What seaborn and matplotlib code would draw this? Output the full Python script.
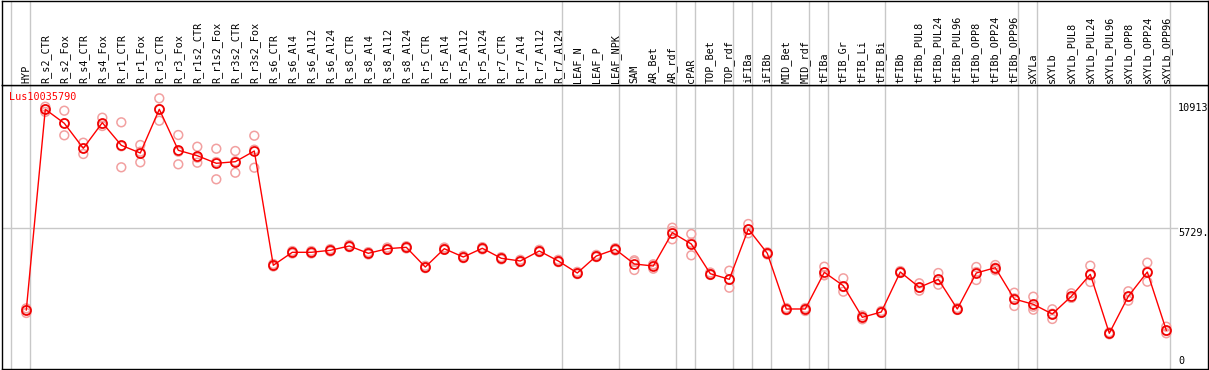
import matplotlib
matplotlib.use("Agg")
import matplotlib.pyplot as plt
import seaborn as sns
import numpy as np
import pandas as pd

# ---------------- data ----------------
samples = ["HYP", "R_s2_CTR", "R_s2_Fox", "R_s4_CTR", "R_s4_Fox", "R_r1_CTR", "R_r1_Fox",
           "R_r3_CTR", "R_r3_Fox", "R_r1s2_CTR", "R_r1s2_Fox", "R_r3s2_CTR", "R_r3s2_Fox",
           "R_s6_CTR", "R_s6_Al4", "R_s6_Al12", "R_s6_Al24", "R_s8_CTR", "R_s8_Al4",
           "R_s8_Al12", "R_s8_Al24", "R_r5_CTR", "R_r5_Al4", "R_r5_Al12", "R_r5_Al24",
           "R_r7_CTR", "R_r7_Al4", "R_r7_Al12", "R_r7_Al24", "LEAF_N", "LEAF_P", "LEAF_NPK",
           "SAM", "AR_Bet", "AR_rdf", "cPAR", "TOP_Bet", "TOP_rdf", "iFIBa", "iFIBb",
           "MID_Bet", "MID_rdf", "tFIBa", "tFIB_Gr", "tFIB_Li", "tFIB_Bi", "tFIBb",
           "tFIBb_PUL8", "tFIBb_PUL24", "tFIBb_PUL96", "tFIBb_OPP8", "tFIBb_OPP24",
           "tFIBb_OPP96", "sXYLa", "sXYLb", "sXYLb_PUL8", "sXYLb_PUL24", "sXYLb_PUL96",
           "sXYLb_OPP8", "sXYLb_OPP24", "sXYLb_OPP96"]

mean_expr = [2343, 10666, 10086, 9049, 10110, 9173, 8854, 10666, 8966, 8742, 8427, 8493, 8937,
             4197, 4736, 4736, 4819, 4997, 4694, 4885, 4943, 4126, 4885, 4541, 4902,
             4487, 4375, 4790, 4375, 3877, 4582, 4860, 4251, 4168, 5549, 5080, 3848, 3616,
             5702, 4694, 2385, 2385, 3906, 3351, 2040, 2260, 3919, 3284, 3616, 2385, 3877,
             4097, 2799, 2579, 2177, 2911, 3823, 1377, 2911, 3919, 1501]

rep1 = [2411, 10774, 10608, 9281, 10318, 10127, 9186, 11122, 9600, 9115, 9032, 8937, 9571,
        4251, 4790, 4790, 4870, 5045, 4745, 4935, 4990, 4175, 4935, 4590, 4950,
        4535, 4425, 4840, 4425, 3925, 4630, 4910, 4346, 4238, 5756, 5495, 3898, 3973,
        5910, 4736, 2426, 2426, 4139, 3658, 2115, 2302, 3960, 3450, 3877, 2426, 4127,
        4209, 3060, 2895, 2372, 3036, 4180, 1418, 3119, 4305, 1650]
rep2 = [2343, 10666, 10086, 9049, 10056, 9132, 8908, 10678, 8908, 8659, 8481, 8510, 8991,
        4197, 4736, 4736, 4819, 4997, 4694, 4885, 4943, 4126, 4885, 4541, 4902,
        4487, 4375, 4790, 4375, 3877, 4582, 4860, 4404, 4209, 5619, 5134, 3848, 3600,
        5673, 4694, 2385, 2385, 3794, 3297, 2040, 2260, 3919, 3260, 3575, 2385, 3919,
        4097, 2828, 2480, 2190, 2845, 3782, 1377, 2882, 3931, 1472]
rep3 = [2219, 10558, 9588, 8812, 9973, 8261, 8468, 10193, 8385, 8452, 7763, 8037, 8244,
        4147, 4686, 4686, 4770, 4950, 4645, 4835, 4895, 4078, 4835, 4492, 4855,
        4440, 4327, 4742, 4327, 3830, 4535, 4810, 4002, 4056, 5275, 4611, 3794, 3268,
        5524, 4645, 2331, 2302, 3782, 3102, 1957, 2219, 3877, 3143, 3392, 2343, 3587,
        3989, 2509, 2355, 1970, 2853, 3504, 1335, 2729, 3517, 1377]

# last sample index of each tissue group (separator lines drawn after them)
group_ends = [-1, 0, 28, 31, 34, 35, 37, 38, 39, 41, 42, 45, 52, 53, 60]

gene_id = "Lus10035790"
y_tick_values = [10913, 5729, 0]
y_tick_labels = ["10913", "5729.", "0"]

# ---------------- figure ----------------
W, H = 1209, 370
fig = plt.figure(figsize=(W / 100, H / 100), dpi=100)
mono = "DejaVu Sans Mono"
fs = 7.3

left = 2 / W
width = (1208 - 2) / W
ax = fig.add_axes([left, 1 / H, width, (369 - 85) / H])
axh = fig.add_axes([left, (H - 85) / H, width, (85 - 0.5) / H], sharex=ax)

x = np.arange(len(samples))
reps_df = pd.DataFrame({
    "x": np.concatenate([x, x, x]),
    "v": np.concatenate([rep1, rep2, rep3]),
})
mean_df = pd.DataFrame({"x": x, "v": mean_expr})

grid_c = "#c8c8c8"
for g in group_ends:
    ax.axvline(g + 0.22, color=grid_c, lw=1.0, zorder=0)
    axh.axvline(g + 0.22, color=grid_c, lw=1.0, zorder=0)
ax.axhline(5729, xmin=0, xmax=0.974, color=grid_c, lw=1.0, zorder=0)

sns.scatterplot(data=reps_df, x="x", y="v", ax=ax, marker="o", s=40,
                facecolors="none", edgecolor="#f2a0a0", linewidth=1.1, zorder=2,
                legend=False)
sns.lineplot(data=mean_df, x="x", y="v", ax=ax, color="#ff0000", lw=1.0, sort=False,
             marker="o", markersize=6.5, markerfacecolor="none",
             markeredgecolor="#f00000", markeredgewidth=1.25, zorder=3, legend=False)

ax.set_xlim((2 - 26.3) / 19, (1208 - 26.3) / 19)
ax.set_ylim(-104, 11674)
ax.set_xlabel("")
ax.set_ylabel("")
ax.set_xticks([])
ax.set_yticks([])
for s in ax.spines.values():
    s.set_color("black")
    s.set_linewidth(1.0)

# right-side value labels
xr = (1178 - 26.3) / 19
for val, lab in zip(y_tick_values, y_tick_labels):
    ax.text(xr, val, lab, fontsize=fs, family=mono, color="black",
            va="top" if val > 0 else "bottom", ha="left", zorder=5)

ax.text((9.3 - 26.3) / 19, 11380, gene_id, fontsize=fs, family=mono, color="#ff0000",
        va="top", ha="left", zorder=5)

# header with rotated sample names
axh.set_ylim(0, 85)
axh.set_xticks([])
axh.set_yticks([])
for s in axh.spines.values():
    s.set_color("black")
    s.set_linewidth(1.0)
for i, name in enumerate(samples):
    axh.text(i, 2.0, name, rotation=90, fontsize=fs, family=mono, color="black",
             ha="center", va="bottom", rotation_mode="default")

fig.savefig("out.png", dpi=100)
